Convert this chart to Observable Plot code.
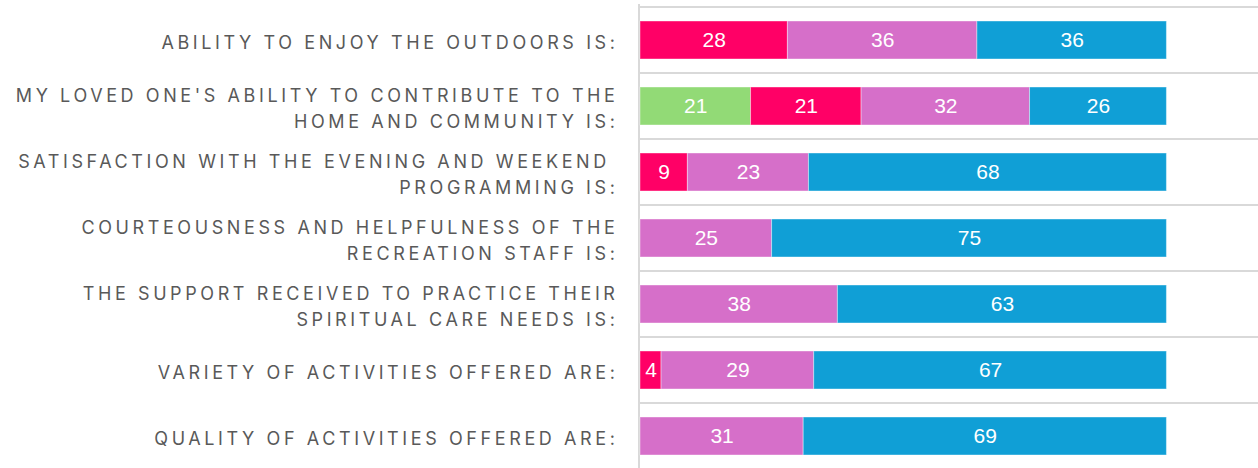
<!DOCTYPE html>
<html><head><meta charset="utf-8">
<script src="https://cdn.jsdelivr.net/npm/d3@7"></script>
<script src="https://cdn.jsdelivr.net/npm/@observablehq/plot@0.6"></script>
<style>
html,body{margin:0;padding:0;background:#fff;overflow:hidden;}
svg{display:block;}
g[aria-description="question labels"] text{letter-spacing:3.6px;}
</style></head><body><div id="chart"></div>
<script>
const questions = [
  "ABILITY TO ENJOY THE OUTDOORS IS:",
  "MY LOVED ONE'S ABILITY TO CONTRIBUTE TO THE\nHOME AND COMMUNITY IS:",
  "SATISFACTION WITH THE EVENING AND WEEKEND\u00A0\nPROGRAMMING IS:",
  "COURTEOUSNESS AND HELPFULNESS OF THE\nRECREATION STAFF IS:",
  "THE SUPPORT RECEIVED TO PRACTICE THEIR\nSPIRITUAL CARE NEEDS IS:",
  "VARIETY OF ACTIVITIES OFFERED ARE:",
  "QUALITY OF ACTIVITIES OFFERED ARE:"
];
const seriesNames = ["Series 1", "Series 2", "Series 3", "Series 4"];
const seriesColors = ["#92da76", "#ff0066", "#d66fc9", "#109fd6"];
const series1Values = [0, 21, 0, 0, 0, 0, 0];
const series2Values = [28, 21, 9, 0, 0, 4, 0];
const series3Values = [36, 32, 23, 25, 37.5, 29, 31];
const series4Values = [36, 26, 68, 75, 62.5, 67, 69];

const seriesValues = [series1Values, series2Values, series3Values, series4Values];
const table = [];
questions.forEach((q, i) => {
  seriesNames.forEach((s, j) => {
    const v = seriesValues[j][i];
    if (v > 0) table.push({q, series: s, value: v});
  });
});

const W = 1258, H = 472, MT = 4;
const step = (H - MT) / questions.length;
const xMax = 117.4;

const chart = Plot.plot({
  width: W, height: H,
  marginLeft: 640, marginRight: 0, marginTop: MT, marginBottom: 0,
  x: {domain: [0, xMax], axis: null},
  y: {domain: questions, padding: 0, axis: null},
  color: {type: "ordinal", domain: seriesNames, range: seriesColors},
  style: {background: "white", fontFamily: "Inter, sans-serif"},
  marks: [
    Plot.ruleY(questions, {y: d => d, dy: -step / 2, stroke: "#d9d9d9", strokeWidth: 2}),
    Plot.ruleX([0], {stroke: "#d9d9d9", strokeWidth: 2, dx: -1.5}),
    Plot.barX(table, Plot.stackX({x: "value", y: "q", fill: "series", z: "series",
      insetTop: 14, insetBottom: 14, stroke: "white", strokeOpacity: 0.4, strokeWidth: 1})),
    Plot.text(table, Plot.stackX({x: "value", y: "q", z: "series",
      text: d => String(Math.round(d.value)), fill: "white", fontSize: 21,
      fontFamily: "'Liberation Sans', Arial, sans-serif"})),
    Plot.text(questions, {x: 0, y: d => d, text: d => d, textAnchor: "end", dx: -22,
      fontSize: 18, lineHeight: 26 / 18, fill: "#595959", ariaDescription: "question labels"})
  ]
});
document.getElementById("chart").appendChild(chart);
</script></body></html>
